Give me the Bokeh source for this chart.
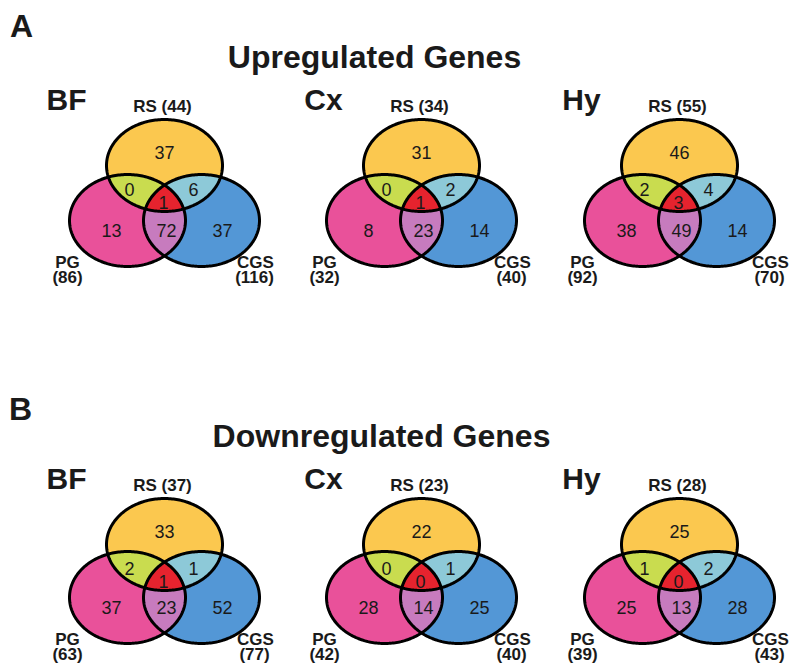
import numpy as np
from bokeh.plotting import figure
from bokeh.models import Range1d
from bokeh.core.properties import value
from bokeh.embed import file_html
from bokeh.resources import INLINE

# ---------------- data ----------------
regions = ["BF", "Cx", "Hy"]
section_letters = ["A", "B"]
section_titles = ["Upregulated Genes", "Downregulated Genes"]

up_rs_only = [37, 31, 46]
up_rs_pg = [0, 0, 2]
up_rs_cgs = [6, 2, 4]
up_all = [1, 1, 3]
up_pg_only = [13, 8, 38]
up_pg_cgs = [72, 23, 49]
up_cgs_only = [37, 14, 14]
up_rs_total = [44, 34, 55]
up_pg_total = [86, 32, 92]
up_cgs_total = [116, 40, 70]

down_rs_only = [33, 22, 25]
down_rs_pg = [2, 0, 1]
down_rs_cgs = [1, 1, 2]
down_all = [1, 0, 0]
down_pg_only = [37, 28, 25]
down_pg_cgs = [23, 14, 13]
down_cgs_only = [52, 25, 28]
down_rs_total = [37, 23, 28]
down_pg_total = [63, 42, 39]
down_cgs_total = [77, 40, 43]

sets = [
    dict(rs_only=up_rs_only, rs_pg=up_rs_pg, rs_cgs=up_rs_cgs, all=up_all,
         pg_only=up_pg_only, pg_cgs=up_pg_cgs, cgs_only=up_cgs_only,
         rs_t=up_rs_total, pg_t=up_pg_total, cgs_t=up_cgs_total),
    dict(rs_only=down_rs_only, rs_pg=down_rs_pg, rs_cgs=down_rs_cgs, all=down_all,
         pg_only=down_pg_only, pg_cgs=down_pg_cgs, cgs_only=down_cgs_only,
         rs_t=down_rs_total, pg_t=down_pg_total, cgs_t=down_cgs_total),
]

# ---------------- layout (pixels) ----------------
panel_x = [164, 421, 679]
row_rs_y = [165, 544]
row_pg_y = [220, 597]
rx, ry, half_sep = 58, 46, 37

C_RS = "#FBC84F"
C_PG = "#E9519A"
C_CGS = "#5397D6"
C_RS_PG = "#C9DC4F"
C_RS_CGS = "#8DC9D8"
C_PG_CGS = "#C77BBE"
C_ALL = "#E6232E"

FONT = value("Liberation Sans")


def ellipse_poly(cx, cy, n=240):
    t = np.linspace(0, 2 * np.pi, n, endpoint=False)
    return list(zip(cx + rx * np.cos(t), cy + ry * np.sin(t)))


def clip(subject, clipper):
    def inside(p, a, b):
        return (b[0] - a[0]) * (p[1] - a[1]) - (b[1] - a[1]) * (p[0] - a[0]) >= 0

    def inter(s, e, a, b):
        x1, y1 = s; x2, y2 = e; x3, y3 = a; x4, y4 = b
        den = (x1 - x2) * (y3 - y4) - (y1 - y2) * (x3 - x4)
        t = ((x1 - x3) * (y3 - y4) - (y1 - y3) * (x3 - x4)) / den
        return (x1 + t * (x2 - x1), y1 + t * (y2 - y1))

    out = list(subject)
    n = len(clipper)
    for i in range(n):
        a, b = clipper[i], clipper[(i + 1) % n]
        inp, out = out, []
        if not inp:
            break
        s = inp[-1]
        for e in inp:
            if inside(e, a, b):
                if not inside(s, a, b):
                    out.append(inter(s, e, a, b))
                out.append(e)
            elif inside(s, a, b):
                out.append(inter(s, e, a, b))
            s = e
    return out


p = figure(width=792, height=664, output_backend="svg", toolbar_location=None,
           x_range=Range1d(0, 792), y_range=Range1d(664, 0), min_border=0)
p.axis.visible = False
p.grid.visible = False
p.outline_line_color = None
p.background_fill_color = "white"

fill_xs, fill_ys, fill_c = [], [], []
line_xs, line_ys = [], []
tx, ty, tt = [], [], []

for r in range(2):
    d = sets[r]
    for k in range(3):
        cx = panel_x[k]
        rs = ellipse_poly(cx, row_rs_y[r])
        pg = ellipse_poly(cx - half_sep, row_pg_y[r])
        cg = ellipse_poly(cx + half_sep, row_pg_y[r])
        rs_pg = clip(rs, pg)
        rs_cg = clip(rs, cg)
        pg_cg = clip(pg, cg)
        allp = clip(rs_pg, cg)
        for poly, col in [(pg, C_PG), (cg, C_CGS), (rs, C_RS), (rs_pg, C_RS_PG),
                          (rs_cg, C_RS_CGS), (pg_cg, C_PG_CGS), (allp, C_ALL)]:
            fill_xs.append([q[0] for q in poly])
            fill_ys.append([q[1] for q in poly])
            fill_c.append(col)
        for poly in (pg, cg, rs):
            line_xs.append([q[0] for q in poly])
            line_ys.append([q[1] for q in poly])
        ys, yp = row_rs_y[r], row_pg_y[r]
        for dx, yy, v in [(0, ys - 13, d["rs_only"][k]), (-35, ys + 24, d["rs_pg"][k]),
                          (29, ys + 24, d["rs_cgs"][k]), (-1, ys + 37, d["all"][k]),
                          (-53, yp + 10, d["pg_only"][k]), (2, yp + 10, d["pg_cgs"][k]),
                          (58, yp + 10, d["cgs_only"][k])]:
            tx.append(cx + dx); ty.append(yy); tt.append(str(v))

p.patches(fill_xs, fill_ys, fill_color=fill_c, line_color=None)
p.patches(line_xs, line_ys, fill_color=None, line_color="black", line_width=3)
p.text(tx, ty, text=tt, text_font=FONT, text_font_size="18px", text_color="#1a1a1a",
       text_align="center", text_baseline="middle")

# labels
lx, ly, lt = [], [], []
for r in range(2):
    d = sets[r]
    for k in range(3):
        cx = panel_x[k]
        lx.append(cx - 2); ly.append(row_rs_y[r] - 59); lt.append("RS (%d)" % d["rs_t"][k])
        lx.append(cx - half_sep - 60); ly.append(row_pg_y[r] + 42); lt.append("PG")
        lx.append(cx - half_sep - 60); ly.append(row_pg_y[r] + 57); lt.append("(%d)" % d["pg_t"][k])
        lx.append(cx + half_sep + 54); ly.append(row_pg_y[r] + 42); lt.append("CGS")
        lx.append(cx + half_sep + 53); ly.append(row_pg_y[r] + 57); lt.append("(%d)" % d["cgs_t"][k])
p.text(lx, ly, text=lt, text_font=FONT, text_font_size="17px", text_font_style="bold",
       text_color="#1a1a1a", text_align="center", text_baseline="middle")

# region names
rx_, ry_, rt_ = [], [], []
for r in range(2):
    for k in range(3):
        rx_.append(panel_x[k] - 98); ry_.append(row_rs_y[r] - 66); rt_.append(regions[k])
p.text(rx_, ry_, text=rt_, text_font=FONT, text_font_size="30px", text_font_style="bold",
       text_color="#1a1a1a", text_align="center", text_baseline="middle")

# section titles & letters
p.text([374, 381], [56, 435], text=section_titles, text_font=FONT, text_font_size="32px",
       text_font_style="bold", text_color="#1a1a1a", text_align="center", text_baseline="middle")
p.text([21, 20], [25, 408], text=section_letters, text_font=FONT, text_font_size="32px",
       text_font_style="bold", text_color="#1a1a1a", text_align="center", text_baseline="middle")

open("out.html", "w").write(file_html(p, INLINE))
